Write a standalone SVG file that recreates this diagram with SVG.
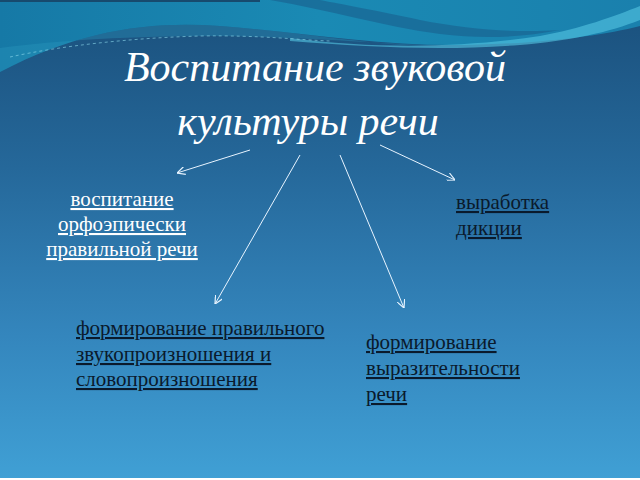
<svg xmlns="http://www.w3.org/2000/svg" width="640" height="480" viewBox="0 0 640 480">
<defs>
<linearGradient id="bg" x1="0" y1="0" x2="0" y2="1">
<stop offset="0" stop-color="#1a4f7b"/>
<stop offset="0.35" stop-color="#25689a"/>
<stop offset="0.7" stop-color="#3486bd"/>
<stop offset="1" stop-color="#40a0d5"/>
</linearGradient>
<linearGradient id="teal" x1="0" y1="0" x2="1" y2="0">
<stop offset="0" stop-color="#1679a6"/>
<stop offset="0.5" stop-color="#1a8ab4"/>
<stop offset="1" stop-color="#1a80ad"/>
</linearGradient>
<marker id="ah" viewBox="0 0 10 10" refX="10" refY="5" markerWidth="8" markerHeight="8" markerUnits="userSpaceOnUse" orient="auto">
<path d="M0,0 L10,5 L0,10" fill="none" stroke="#e8f4ff" stroke-width="1.5"/>
</marker>
<style>
.title{font-style:italic;font-size:42px;fill:#ffffff;text-anchor:middle}
.item{font-size:21px;text-decoration:underline}
.w{fill:#ffffff}
.d{fill:#0a1a2c}
.conn line{stroke:#e8f4ff;stroke-width:1;marker-end:url(#ah)}
</style>
</defs>
<g id="background">
<rect x="0" y="0" width="640" height="480" fill="url(#bg)"/>
<path d="M0,0 H640 V26 C600,36 540,44 460,45 C380,46 300,32 220,26 C150,21 80,30 0,72 Z" fill="url(#teal)"/>
<path d="M0,48 C60,40 130,36 220,36 C300,37 360,42 420,45 C380,46 300,32 220,26 C150,21 80,30 0,72 Z" fill="#2a9cc0" opacity="0.35"/>
<path d="M270,0 C330,10 380,26 440,34 C480,39 520,38 560,30 C520,33 470,30 420,20 C380,11 340,4 320,0 Z" fill="#1a6794" opacity="0.75"/>
<path d="M290,38 C380,50 470,47 540,36 C580,29 615,16 640,6 V20 C610,32 570,41 520,45 C440,51 370,47 290,41 Z" fill="#55c6e2" opacity="0.6"/>
<path d="M10,57 C60,46 130,38 200,36 C260,35 300,40 330,41" fill="none" stroke="#8fdcef" stroke-width="1" stroke-dasharray="3 3" opacity="0.6"/>
<rect x="0" y="0" width="260" height="2" fill="#174a6e"/>
<rect x="0" y="478" width="640" height="2" fill="#ffffff"/>
</g>
<g id="title" font-family="Liberation Serif, DejaVu Serif, serif">
<text class="title" x="315" y="81">Воспитание звуковой</text>
<text class="title" x="308" y="135">культуры речи</text>
</g>
<g id="node-orthoepic" font-family="Liberation Serif, DejaVu Serif, serif">
<text class="item w" text-anchor="middle"><tspan x="122" y="206">воспитание</tspan><tspan x="122" y="231">орфоэпически</tspan><tspan x="122" y="256">правильной речи</tspan></text>
</g>
<g id="node-diction" font-family="Liberation Serif, DejaVu Serif, serif">
<text class="item d"><tspan x="456" y="209">выработка</tspan><tspan x="456" y="235">дикции</tspan></text>
</g>
<g id="node-pronunciation" font-family="Liberation Serif, DejaVu Serif, serif">
<text class="item d"><tspan x="76" y="335">формирование правильного</tspan><tspan x="76" y="361">звукопроизношения и</tspan><tspan x="76" y="386">словопроизношения</tspan></text>
</g>
<g id="node-expressiveness" font-family="Liberation Serif, DejaVu Serif, serif">
<text class="item d"><tspan x="366" y="349">формирование</tspan><tspan x="366" y="375">выразительности</tspan><tspan x="366" y="401">речи</tspan></text>
</g>
<g id="connectors" class="conn">
<line x1="250" y1="150" x2="177" y2="173"/>
<line x1="300" y1="155" x2="215" y2="304"/>
<line x1="340" y1="155" x2="404" y2="308"/>
<line x1="380" y1="145" x2="455" y2="180"/>
</g>
</svg>
